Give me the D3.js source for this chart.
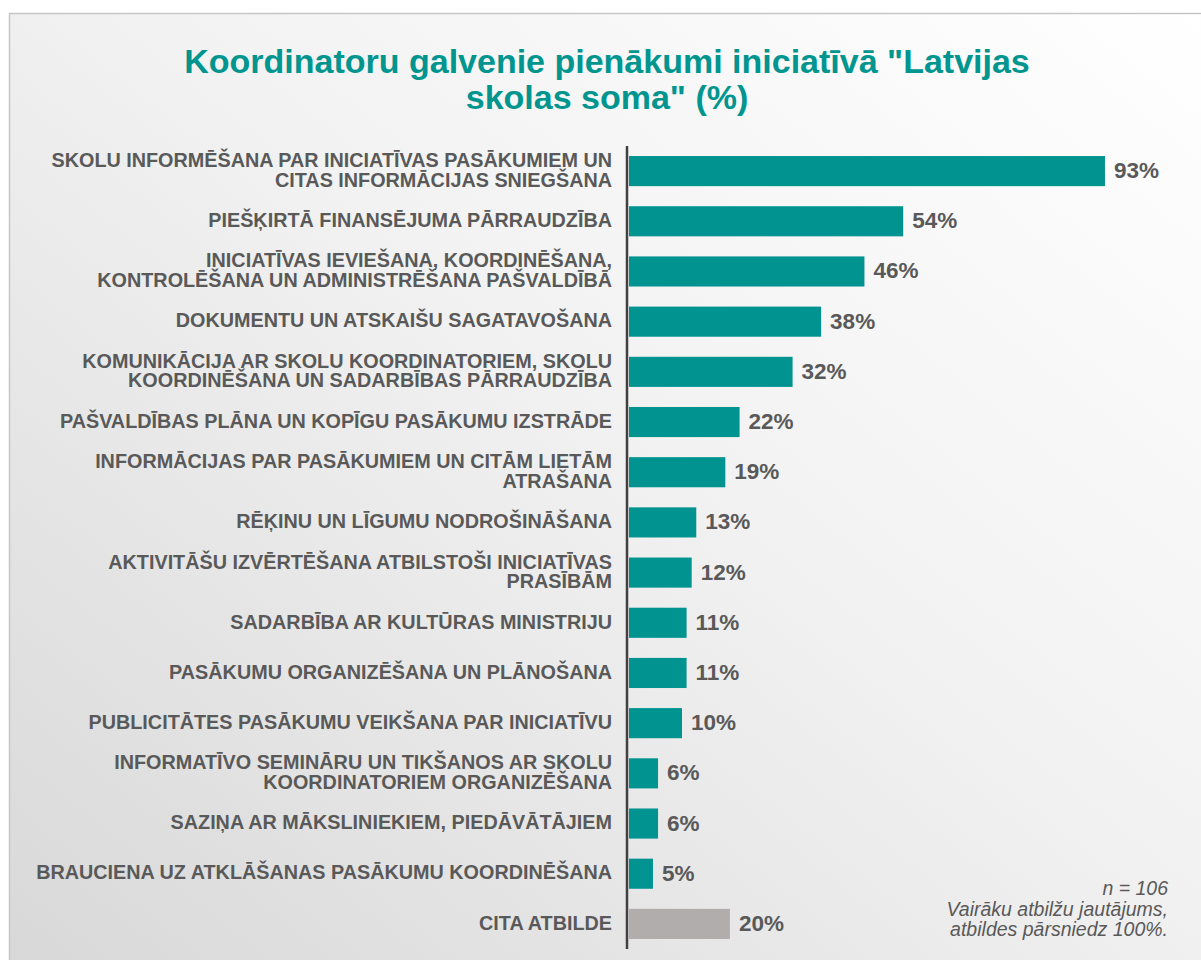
<!DOCTYPE html>
<html><head><meta charset="utf-8">
<script src="https://cdn.jsdelivr.net/npm/d3@7"></script>
<style>body{margin:0;background:#fff}svg{display:block}</style>
</head><body>
<svg id="c" width="1201" height="960"></svg>
<script>
const categories = [
  ["SKOLU INFORMĒŠANA PAR INICIATĪVAS PASĀKUMIEM UN", "CITAS INFORMĀCIJAS SNIEGŠANA"],
  ["PIEŠĶIRTĀ FINANSĒJUMA PĀRRAUDZĪBA"],
  ["INICIATĪVAS IEVIEŠANA, KOORDINĒŠANA,", "KONTROLĒŠANA UN ADMINISTRĒŠANA PAŠVALDĪBĀ"],
  ["DOKUMENTU UN ATSKAIŠU SAGATAVOŠANA"],
  ["KOMUNIKĀCIJA AR SKOLU KOORDINATORIEM, SKOLU", "KOORDINĒŠANA UN SADARBĪBAS PĀRRAUDZĪBA"],
  ["PAŠVALDĪBAS PLĀNA UN KOPĪGU PASĀKUMU IZSTRĀDE"],
  ["INFORMĀCIJAS PAR PASĀKUMIEM UN CITĀM LIETĀM", "ATRAŠANA"],
  ["RĒĶINU UN LĪGUMU NODROŠINĀŠANA"],
  ["AKTIVITĀŠU IZVĒRTĒŠANA ATBILSTOŠI INICIATĪVAS", "PRASĪBĀM"],
  ["SADARBĪBA AR KULTŪRAS MINISTRIJU"],
  ["PASĀKUMU ORGANIZĒŠANA UN PLĀNOŠANA"],
  ["PUBLICITĀTES PASĀKUMU VEIKŠANA PAR INICIATĪVU"],
  ["INFORMATĪVO SEMINĀRU UN TIKŠANOS AR SKOLU", "KOORDINATORIEM ORGANIZĒŠANA"],
  ["SAZIŅA AR MĀKSLINIEKIEM, PIEDĀVĀTĀJIEM"],
  ["BRAUCIENA UZ ATKLĀŠANAS PASĀKUMU KOORDINĒŠANA"],
  ["CITA ATBILDE"]
];
const values = [93.4, 53.8, 46.2, 37.7, 32.1, 21.7, 18.9, 13.2, 12.3, 11.3, 11.3, 10.4, 5.7, 5.7, 4.7, 19.8];
const valueLabels = ["93%","54%","46%","38%","32%","22%","19%","13%","12%","11%","11%","10%","6%","6%","5%","20%"];
const otherIndex = 15;
const titleLines = ["Koordinatoru galvenie pienākumi iniciatīvā \"Latvijas", "skolas soma\" (%)"];
const noteLines = ["n = 106", "Vairāku atbilžu jautājums,", "atbildes pārsniedz 100%."];

const svg = d3.select("#c");
const defs = svg.append("defs");
const grad = defs.append("linearGradient").attr("id","bg")
  .attr("x1","100%").attr("y1","0%").attr("x2","0%").attr("y2","100%");
grad.append("stop").attr("offset","0%").attr("stop-color","#ffffff");
grad.append("stop").attr("offset","45%").attr("stop-color","#f2f2f2");
grad.append("stop").attr("offset","100%").attr("stop-color","#d8d8d8");

svg.append("rect").attr("x",9.5).attr("y",13.5).attr("width",1200).attr("height",960)
  .attr("fill","url(#bg)").attr("stroke","#c6c6c6").attr("stroke-width",1.5);

const font = "'Liberation Sans', Arial, sans-serif";

svg.append("g").selectAll("text").data(titleLines).join("text")
  .attr("x",607).attr("y",(d,i)=>73+i*36)
  .attr("text-anchor","middle")
  .attr("font-family",font).attr("font-weight","bold").attr("font-size",34)
  .attr("fill","#00958f").text(d=>d);

const x = d3.scaleLinear().domain([0,100]).range([629, 629+509.6]);
const y = d3.scaleBand().domain(d3.range(categories.length)).range([146,949])
  .paddingInner(0.4).paddingOuter(0.2);

const g = svg.append("g");
g.selectAll("rect.bar").data(values).join("rect").attr("class","bar")
  .attr("x",x(0)).attr("y",(d,i)=>y(i))
  .attr("width",d=>x(d)-x(0)).attr("height",y.bandwidth())
  .attr("fill",(d,i)=>i===otherIndex?"#b1adac":"#00938f");

g.selectAll("text.val").data(values).join("text").attr("class","val")
  .attr("x",d=>x(d)+9).attr("y",(d,i)=>y(i)+y.bandwidth()/2+7)
  .attr("font-family",font).attr("font-weight","bold").attr("font-size",22.5)
  .attr("fill","#595959").text((d,i)=>valueLabels[i]);

const lab = g.selectAll("text.cat").data(categories).join("text").attr("class","cat")
  .attr("text-anchor","end")
  .attr("font-family",font).attr("font-weight","bold").attr("font-size",19.8)
  .attr("fill","#595959");
lab.each(function(lines,i){
  const t = d3.select(this);
  const cy = y(i)+y.bandwidth()/2;
  const n = lines.length;
  lines.forEach((l,j)=>{
    t.append("tspan").attr("x",612).attr("y",cy+5.75+(j-(n-1)/2)*19.5).text(l);
  });
});

svg.append("line").attr("x1",627).attr("x2",627).attr("y1",146).attr("y2",949)
  .attr("stroke","#404040").attr("stroke-width",2.5);

svg.append("g").selectAll("text").data(noteLines).join("text")
  .attr("x",1168).attr("y",(d,i)=>895+i*20.5)
  .attr("text-anchor","end")
  .attr("font-family",font).attr("font-style","italic").attr("font-size",19.5)
  .attr("fill","#595959").text(d=>d);
</script>
</body></html>
